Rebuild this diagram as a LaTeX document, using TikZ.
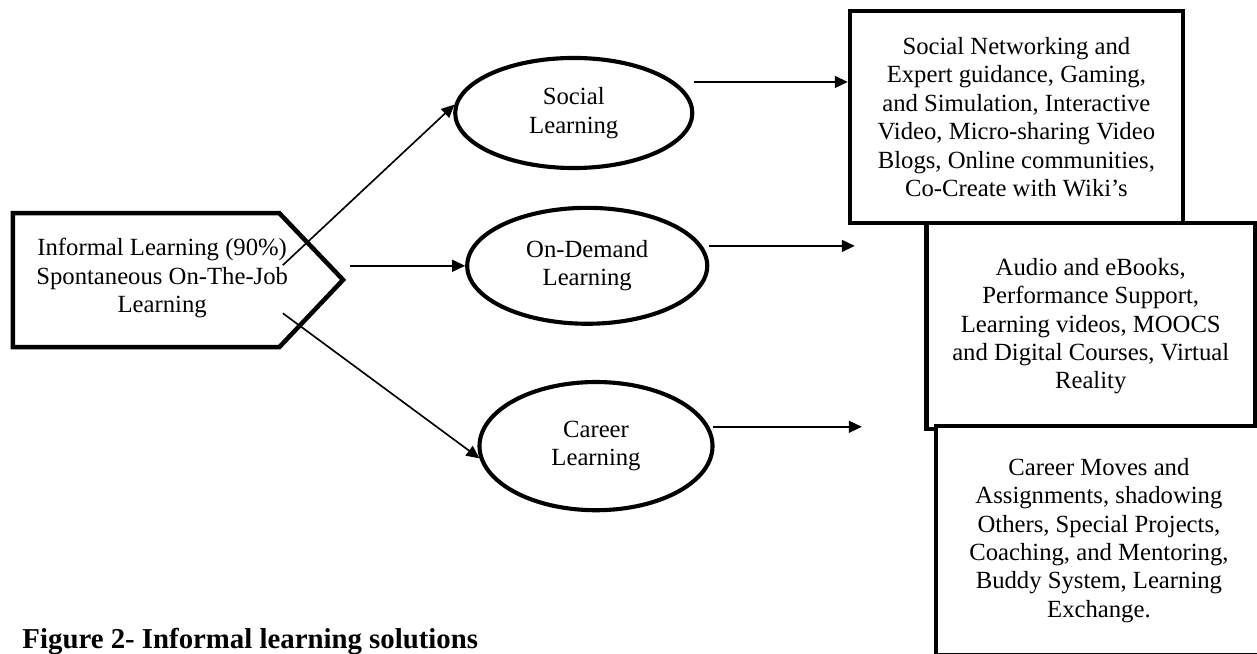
\documentclass[tikz,border=0pt]{standalone}
\usepackage{fontspec}
\setmainfont{Liberation Serif}
\usepackage{tikz}
\usetikzlibrary{
  shapes.geometric,
  arrows.meta,
  positioning,
  calc
}
\tikzset{
blocktext/.style={
  align=center,
  font=\fontsize{12}{13.8}\selectfont,
  text=black
},
arrow/.style={
  -{Triangle[length=6.3pt,width=5.8pt]},
  line width=0.8pt,
  draw=black
}
}

\begin{document}
\begin{tikzpicture}[
    % Estilos
    learning/.style={
        ellipse,
        draw=black,
        line width=2pt,
        fill=white,
        inner sep=0pt,
        blocktext
    },
    solutions/.style={
        rectangle,
        draw=black,
        line width=2pt,
        fill=white,
        inner sep=0pt,
        blocktext
    },
    informal_shape/.style={
        draw=black,
        line width=2.2pt,
        line join=miter
    },
    caption_text/.style={
        font=\fontsize{14}{16}\selectfont\bfseries,
        anchor=base west
    }
]
\useasboundingbox (0,0) rectangle (21.47,11.17);
\clip (0,0) rectangle (21.47,11.17);

% ============================================================================
% Informal learning
% ============================================================================
\draw[informal_shape] (0.22,7.53) -- (4.77,7.53) -- (5.86,6.39)
    -- (4.77,5.24) -- (0.22,5.24) -- cycle;
\node[blocktext] (informal) at (2.77,6.42) {
    Informal Learning (90\%)\\
    Spontaneous On-The-Job\\
    Learning
};

% ============================================================================
% Learning types
% ============================================================================
\node[learning, minimum width=4.05cm, minimum height=1.88cm] (social) at (9.80,9.24) {Social\\Learning};
\node[learning, minimum width=4.10cm, minimum height=1.98cm] (ondemand) at (10.03,6.63) {On-Demand\\Learning};
\node[learning, minimum width=3.98cm, minimum height=2.19cm] (career) at (10.18,3.55) {Career\\Learning};

% ============================================================================
% Solutions
% ============================================================================
\node[solutions, minimum width=5.69cm, minimum height=3.62cm] (socialbox) at (17.36,9.17) {
    Social Networking and\\
    Expert guidance, Gaming,\\
    and Simulation, Interactive\\
    Video, Micro-sharing Video\\
    Blogs, Online communities,\\
    Co-Create with Wiki’s
};
\node[solutions, minimum width=5.61cm, minimum height=3.53cm] (ondemandbox) at (18.63,5.60) {
    Audio and eBooks,\\
    Performance Support,\\
    Learning videos, MOOCS\\
    and Digital Courses, Virtual\\
    Reality
};
\node[solutions, minimum width=5.57cm, minimum height=3.91cm] (careerbox) at (18.77,1.94) {
    Career Moves and\\
    Assignments, shadowing\\
    Others, Special Projects,\\
    Coaching, and Mentoring,\\
    Buddy System, Learning\\
    Exchange.
};

% ============================================================================
% Setas
% ============================================================================
\coordinate (inf_up) at (4.83,6.64);
\coordinate (inf_mid) at (5.98,6.63);
\coordinate (inf_low) at (4.83,5.82);

\draw[arrow] (inf_up) -- (social.176);
\draw[arrow] (inf_mid) -- (ondemand.west);
\draw[arrow] (inf_low) -- (career.186);

\coordinate (social_out) at (11.85,9.77);
\coordinate (ondemand_out) at (12.11,6.97);
\coordinate (ondemand_end) at (14.60,6.97);
\coordinate (career_out) at (12.18,3.88);
\coordinate (career_end) at (14.72,3.88);

\draw[arrow] (social_out) -- (social_out -| socialbox.west);
\draw[arrow] (ondemand_out) -- (ondemand_end);
\draw[arrow] (career_out) -- (career_end);

% Legenda
\node[caption_text] (caption) at (0.26,0.10) {Figure 2- Informal learning solutions};

\end{tikzpicture}
\end{document}
